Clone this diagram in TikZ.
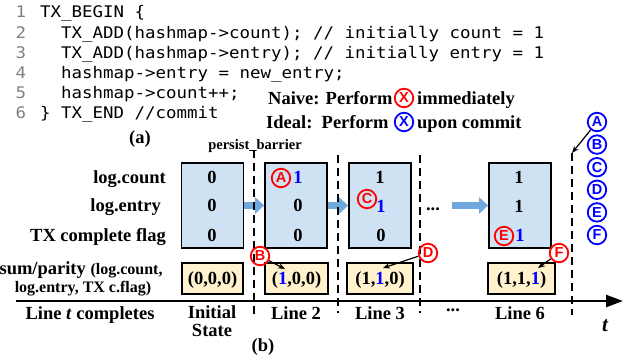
\documentclass[tikz,border=0pt]{standalone}
\usepackage{fontspec}
\setmainfont{Liberation Serif}
\newfontfamily\codefont{DejaVu Sans Mono}[FakeStretch=1.09]
\newfontfamily\circfont{Liberation Sans}
\usetikzlibrary{arrows.meta}
\definecolor{boxblue}{RGB}{207,226,243}
\definecolor{boxtan}{RGB}{255,242,204}
\definecolor{fatarrow}{RGB}{111,168,220}
\definecolor{tblue}{RGB}{0,0,255}
\definecolor{tred}{RGB}{255,0,0}
\definecolor{lnum}{RGB}{128,128,128}
\tikzset{
  lbl/.style={font=\bfseries\fontsize{18.5}{20}\selectfont, inner sep=0pt, text height=12.2pt, text depth=0pt},
  small/.style={lbl, font=\bfseries\fontsize{16}{18}\selectfont, text height=10.5pt},
  code/.style={font=\codefont\fontsize{16}{18}\selectfont, inner sep=0pt, anchor=west, text height=11.7pt, text depth=0pt},
  num/.style={code, text=lnum, anchor=center},
  circ/.style={circle, draw, line width=1.8pt, inner sep=0pt, minimum size=18.5pt, font=\circfont\bfseries\fontsize{14.5}{14.5}\selectfont},
  rc/.style={circ, draw=tred, text=tred},
  bc/.style={circ, draw=tblue, text=tblue},
  bbox/.style={draw, line width=1.8pt, fill=boxblue, minimum width=62pt, minimum height=85pt, inner sep=0pt},
  tbox/.style={draw, line width=1.8pt, fill=boxtan, minimum height=31pt, inner sep=0pt},
  fat/.style={line width=7pt, draw=fatarrow, -{Triangle[length=9pt,width=16pt]}},
  dline/.style={line width=2.4pt, dash pattern=on 8pt off 5pt},
  sarrow/.style={line width=1.2pt, -{Stealth[length=7pt,width=5.5pt]}}
}
\begin{document}
\begin{tikzpicture}[x=1pt,y=-1pt]
\useasboundingbox (0,0) rectangle (632,360);
\clip (0,0) rectangle (632,360);
% code listing
\node[num] (n1) at (21,12) {1};
\node[num] (n2) at (21,32.2) {2};
\node[num] (n3) at (21,52.4) {3};
\node[num] (n4) at (21,72.6) {4};
\node[num] (n5) at (21,92.8) {5};
\node[num] (n6) at (21,113) {6};
\node[code] (c1) at (40,12) {TX\_BEGIN \{};
\node[code] (c2) at (61,32.2) {TX\_ADD(hashmap->count); // initially count = 1};
\node[code] (c3) at (61,52.4) {TX\_ADD(hashmap->entry); // initially entry = 1};
\node[code] (c4) at (61,72.6) {hashmap->entry = new\_entry;};
\node[code] (c5) at (61,92.8) {hashmap->count++;};
\node[code] (c6) at (40,113) {\} TX\_END //commit};
% naive / ideal
\node[lbl, anchor=west] (nv) at (268,98) {Naive: Perform};
\node[rc] (nx) at (404,98) {X};
\node[lbl, anchor=west] (nv2) at (417,98) {immediately};
\node[lbl, anchor=west] (id) at (266,122) {Ideal:\ \ Perform};
\node[bc] (ix) at (404,122) {X};
\node[lbl, anchor=west] (id2) at (417,122) {upon commit};
\node[lbl] (pa) at (140,137) {(a)};
\node[lbl, font=\bfseries\fontsize{14.5}{16}\selectfont, text height=9.5pt] (pb) at (255,145) {persist\_barrier};
% row labels
\node[lbl, anchor=east] (r1) at (166,177) {log.count};
\node[lbl, anchor=east] (r2) at (161,205) {log.entry};
\node[lbl, anchor=east] (r3) at (166,235) {TX complete flag};
\node[lbl, anchor=west] (r4) at (-51,268) {Checksum/parity {\fontsize{16}{18}\selectfont(log.count,}};
\node[small] (r5) at (83,287) {log.entry, TX c.flag)};
% blue boxes
\node[bbox] (b1) at (212.5,205.5) {};
\node[bbox] (b2) at (296,205.5) {};
\node[bbox] (b3) at (380,205.5) {};
\node[bbox] (b4) at (520,205.5) {};
% values
\node[lbl] (v11) at (212,177) {0};
\node[lbl] (v12) at (212,205) {0};
\node[lbl] (v13) at (212,235) {0};
\node[rc] (cA) at (281,178) {A};
\node[lbl, text=tblue] (v21) at (298,177) {1};
\node[lbl] (v22) at (298,205) {0};
\node[lbl] (v23) at (298,235) {0};
\node[lbl] (v31) at (380,177) {1};
\node[rc] (cC) at (367,199) {C};
\node[lbl, text=tblue] (v32) at (381,206) {1};
\node[lbl] (v33) at (381,235) {0};
\node[lbl] (v41) at (519,177) {1};
\node[lbl] (v42) at (519,206) {1};
\node[rc] (cE) at (504,236) {E};
\node[lbl, text=tblue] (v43) at (520,235) {1};
% fat arrows
\coordinate (fa3s) at (452,205.5);
\draw[fat] (b1.east) -- (b2.west);
\draw[fat] (b2.east) -- (b3.west);
\draw[fat] (fa3s) -- (b4.west);
\node[lbl] (mdots) at (433,204) {...};
% tan boxes
\node[tbox, minimum width=61pt] (t1) at (212.5,278.5) {};
\node[tbox, minimum width=63pt] (t2) at (296.5,278.5) {};
\node[tbox, minimum width=66pt] (t3) at (380,278.5) {};
\node[tbox, minimum width=67pt] (t4) at (521.5,278.5) {};
\node[lbl] (tv1) at (212.5,278.5) {(0,0,0)};
\node[lbl] (tv2) at (296.5,278.5) {(\textcolor{tblue}{1},0,0)};
\node[lbl] (tv3) at (380,278.5) {(1,\textcolor{tblue}{1},0)};
\node[lbl] (tv4) at (521.5,278.5) {(1,1,\textcolor{tblue}{1})};
% dashed lines
\coordinate (d1t) at (254,150); \coordinate (d1b) at (254,316);
\coordinate (d2t) at (338,155); \coordinate (d2b) at (338,313);
\coordinate (d3t) at (420,155); \coordinate (d3b) at (420,313);
\coordinate (d4t) at (572,153); \coordinate (d4b) at (572,315);
\draw[dline] (d1t) -- (d1b);
\draw[dline] (d2t) -- (d2b);
\draw[dline] (d3t) -- (d3b);
\draw[dline] (d4t) -- (d4b);
% red markers with arrows
\node[rc] (cB) at (260,256) {B};
\node[rc] (cD) at (428,253) {D};
\node[rc] (cF) at (559,253) {F};
\coordinate (tB) at (285,269);
\coordinate (tD) at (383,268);
\coordinate (tF) at (538,268);
\draw[sarrow] (cB) -- (tB);
\draw[sarrow] (cD) -- (tD);
\draw[sarrow] (cF) -- (tF);
% blue legend column
\node[bc] (bA) at (597,122) {A};
\node[bc] (bB) at (597,144.6) {B};
\node[bc] (bC) at (597,167.2) {C};
\node[bc] (bD) at (597,189.8) {D};
\node[bc] (bE) at (597,212.4) {E};
\node[bc] (bF) at (597,235) {F};
\draw[sarrow] (bA) -- (d4t);
% axis
\coordinate (ax0) at (16,301);
\coordinate (ax1) at (623,301);
\draw[line width=2.4pt, -{Triangle[length=17pt,width=12pt]}] (ax0) -- (ax1);
% bottom labels
\node[lbl] (bl0) at (90,313) {Line \textit{t} completes};
\node[lbl] (bl1) at (212,312.5) {Initial};
\node[lbl] (bl1b) at (212,330) {State};
\node[lbl] (bl2) at (296,313) {Line 2};
\node[lbl] (bl3) at (380,313) {Line 3};
\node[lbl] (bld) at (453,305) {...};
\node[lbl] (bl6) at (520,313) {Line 6};
\node[lbl, font=\bfseries\itshape\fontsize{21}{22}\selectfont] (tt) at (605,325) {t};
\node[lbl] (pb2) at (263,345) {(b)};
\end{tikzpicture}
\end{document}
